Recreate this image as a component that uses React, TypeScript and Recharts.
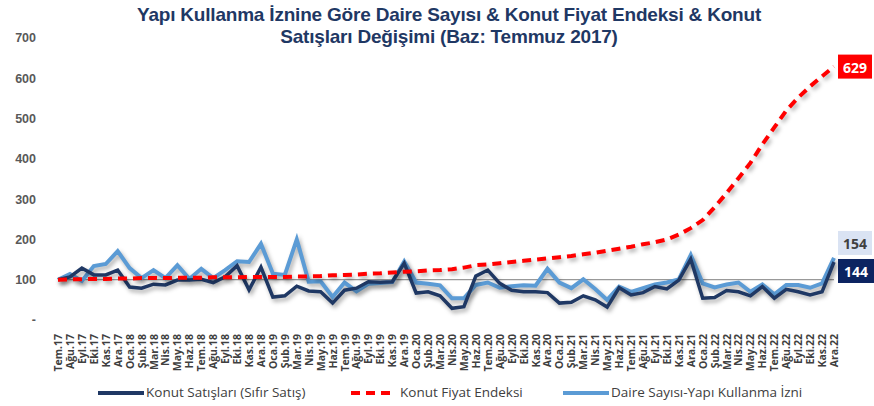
import React from "react";
import { LineChart, Line, XAxis, YAxis, ReferenceLine } from "recharts";

const months = [
  "Tem.17", "Ağu.17", "Eyl.17", "Eki.17", "Kas.17", "Ara.17",
  "Oca.18", "Şub.18", "Mar.18", "Nis.18", "May.18", "Haz.18", "Tem.18", "Ağu.18", "Eyl.18", "Eki.18", "Kas.18", "Ara.18",
  "Oca.19", "Şub.19", "Mar.19", "Nis.19", "May.19", "Haz.19", "Tem.19", "Ağu.19", "Eyl.19", "Eki.19", "Kas.19", "Ara.19",
  "Oca.20", "Şub.20", "Mar.20", "Nis.20", "May.20", "Haz.20", "Tem.20", "Ağu.20", "Eyl.20", "Eki.20", "Kas.20", "Ara.20",
  "Oca.21", "Şub.21", "Mar.21", "Nis.21", "May.21", "Haz.21", "Tem.21", "Ağu.21", "Eyl.21", "Eki.21", "Kas.21", "Ara.21",
  "Oca.22", "Şub.22", "Mar.22", "Nis.22", "May.22", "Haz.22", "Tem.22", "Ağu.22", "Eyl.22", "Eki.22", "Kas.22", "Ara.22",
];

// Konut Satışları (Sıfır Satış)
const konutSatis = [
  100, 107, 129, 112, 112, 124, 82, 79, 89, 87, 99, 99, 101, 93, 107, 135, 75, 131,
  57, 60, 84, 72, 70, 42, 74, 79, 95, 94, 95, 141,
  67, 70, 60, 29, 33, 109, 124, 91, 74, 70, 70, 68,
  42, 44, 60, 50, 32, 80, 62, 68, 83, 77, 99, 151,
  54, 56, 73, 70, 60, 83, 54, 76, 70, 62, 70, 144,
];

// Konut Fiyat Endeksi
const fiyatEndeksi = [
  100, 101, 101, 102, 102, 103, 103, 104, 104, 104, 105, 105, 105, 106, 106, 106, 107, 107,
  107, 107, 108, 108, 109, 111, 112, 113, 115, 116, 118, 120,
  121, 123, 124, 126, 130, 136, 138, 141, 144, 147, 150, 153,
  156, 159, 163, 167, 172, 177, 182, 188, 193, 200, 212, 228,
  248, 280, 315, 352, 390, 436, 478, 520, 552, 580, 605, 629,
];

// Daire Sayısı-Yapı Kullanma İzni
const daireSayisi = [
  100, 114, 97, 134, 139, 171, 129, 104, 124, 104, 136, 102, 127, 104, 124, 146, 144, 189,
  115, 112, 200, 95, 96, 57, 93, 71, 90, 92, 94, 145,
  93, 90, 86, 54, 54, 87, 93, 80, 84, 86, 85, 127,
  93, 79, 101, 77, 50, 83, 70, 79, 88, 93, 101, 161,
  91, 81, 88, 93, 70, 88, 64, 87, 87, 80, 91, 154,
];

const yTicks = [0, 100, 200, 300, 400, 500, 600, 700];

const data = months.map((m, i) => ({
  month: m,
  satis: konutSatis[i],
  endeks: fiyatEndeksi[i],
  daire: daireSayisi[i],
}));

const NAVY = "#1f3864";
const RED = "#ff0000";
const LIGHT = "#5b9bd5";
const last = months.length - 1;

const XTick = ({ x, y, payload }: any) => (
  <text
    x={x}
    y={y + 12}
    transform={`rotate(-90 ${x} ${y + 12})`}
    textAnchor="end"
    dominantBaseline="central"
    fontSize={10.5}
    fontWeight={700}
    fill="#404040"
    fontFamily="'Open Sans', sans-serif"
  >
    {payload.value}
  </text>
);

const makeEndLabel = (bg: string, color: string, dy: number, w: number) => (props: any) => {
  const { x, y, index, value } = props;
  if (index !== last) return null;
  const h = 24;
  const bx = x + 4;
  const by = y + dy - h / 2;
  return (
    <g>
      <rect x={bx} y={by} width={w} height={h} fill={bg} />
      <text
        x={bx + w / 2}
        y={by + h / 2 + 1}
        textAnchor="middle"
        dominantBaseline="central"
        fontSize={14}
        fontWeight={700}
        fill={color}
        fontFamily="'Open Sans', sans-serif"
      >
        {value}
      </text>
    </g>
  );
};

export default function App() {
  return (
    <div style={{ position: "relative", width: 874, height: 406, background: "#fff", fontFamily: "'Open Sans', sans-serif" }}>
      <style>{`body{margin:0}.recharts-line-curve{filter:drop-shadow(2px 3px 2px rgba(0,0,0,0.32));}`}</style>
      <div
        style={{
          position: "absolute",
          left: 24,
          top: 4,
          width: 850,
          textAlign: "center",
          fontFamily: "'Liberation Sans', Arial, sans-serif",
          fontWeight: 700,
          fontSize: 19,
          letterSpacing: -0.2,
          lineHeight: "22px",
          color: NAVY,
        }}
      >
        Yapı Kullanma İznine Göre Daire Sayısı &amp; Konut Fiyat  Endeksi &amp; Konut
        <br />
        Satışları Değişimi (Baz: Temmuz 2017)
      </div>
      <LineChart width={874} height={406} data={data} margin={{ top: 38, right: 40, bottom: 28, left: 0 }}>
        <XAxis
          dataKey="month"
          interval={0}
          axisLine={false}
          tickLine={false}
          tickSize={0}
          height={58}
          tick={<XTick />}
        />
        <YAxis
          domain={[0, 700]}
          ticks={yTicks}
          width={58}
          axisLine={false}
          tickLine={false}
          tickSize={0}
          tickMargin={22}
          tickFormatter={(v: number) => (v === 0 ? "-" : String(v))}
          tick={{ fontSize: 12.5, fontWeight: 700, fill: "#595959", fontFamily: "'Liberation Sans', Arial, sans-serif" }}
        />
        <ReferenceLine y={100} stroke="#7f7f7f" strokeWidth={1} />
        <Line
          dataKey="daire"
          stroke={LIGHT}
          strokeWidth={4}
          dot={false}
          isAnimationActive={false}
          label={makeEndLabel("#dae3f3", "#404040", -15, 34)}
        />
        <Line
          dataKey="satis"
          stroke={NAVY}
          strokeWidth={3.5}
          dot={false}
          isAnimationActive={false}
          label={makeEndLabel("#0c2461", "#ffffff", 9, 36)}
        />
        <Line
          dataKey="endeks"
          stroke={RED}
          strokeWidth={4}
          strokeDasharray="9 6"
          dot={false}
          isAnimationActive={false}
          label={makeEndLabel("#ff0000", "#ffffff", 0, 34)}
        />
      </LineChart>
      <div style={{ position: "absolute", top: 383, left: 0, width: 874, height: 20, fontSize: 13.5, color: "#404040" }}>
        <svg style={{ position: "absolute", left: 98, top: 0 }} width={48} height={20}>
          <line x1={0} y1={10} x2={46} y2={10} stroke={NAVY} strokeWidth={4} />
        </svg>
        <span style={{ position: "absolute", left: 146, top: 0 }}>Konut Satışları (Sıfır Satış)</span>
        <svg style={{ position: "absolute", left: 351, top: 0 }} width={44} height={20}>
          <line x1={0} y1={10} x2={42} y2={10} stroke={RED} strokeWidth={4} strokeDasharray="9 6" />
        </svg>
        <span style={{ position: "absolute", left: 400, top: 0 }}>Konut Fiyat Endeksi</span>
        <svg style={{ position: "absolute", left: 563, top: 0 }} width={48} height={20}>
          <line x1={0} y1={10} x2={46} y2={10} stroke={LIGHT} strokeWidth={4} />
        </svg>
        <span style={{ position: "absolute", left: 611, top: 0 }}>Daire Sayısı-Yapı Kullanma İzni</span>
      </div>
    </div>
  );
}
